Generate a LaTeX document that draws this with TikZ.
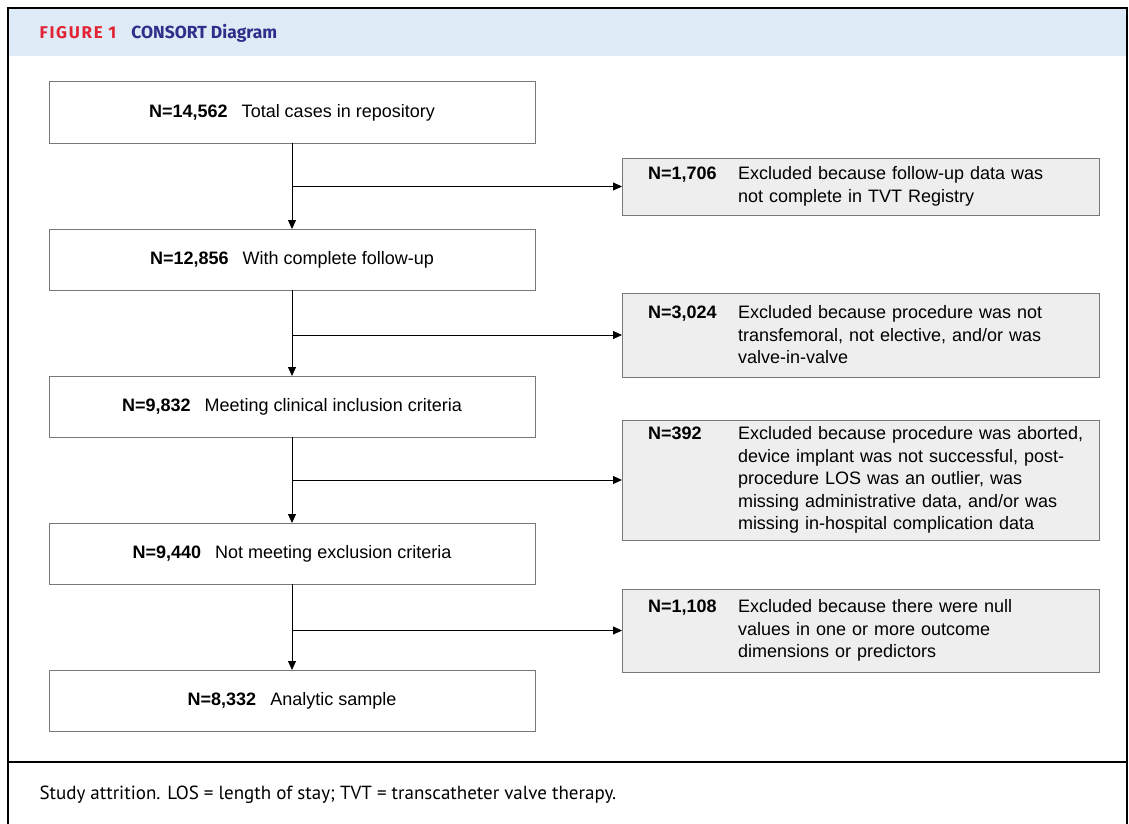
\documentclass[tikz,border=0pt]{standalone}
\usepackage{fontspec}
\setmainfont{Liberation Sans}
\newfontfamily\headfont{Fira Sans}
\newfontfamily\capfont{PT Sans}
\usetikzlibrary{positioning, arrows.meta}

\definecolor{headband}{RGB}{222,234,246}
\definecolor{figred}{RGB}{226,35,52}
\definecolor{figblue}{RGB}{44,48,138}
\definecolor{boxline}{RGB}{120,120,120}
\definecolor{exclfill}{RGB}{238,238,238}

\newcommand{\excltext}[2]{\makebox[90pt][l]{\bfseries #1}\parbox[t]{355pt}{\raggedright #2}}

\begin{document}
\begin{tikzpicture}[
    x=1pt, y=-1pt,
    stage/.style={
        rectangle,
        draw=boxline,
        line width=1pt,
        minimum width=486pt,
        minimum height=61pt,
        outer sep=0pt,
        font=\fontsize{18}{22.5}\selectfont
    },
    excl/.style={
        rectangle,
        draw=boxline,
        fill=exclfill,
        line width=1pt,
        anchor=north west,
        text width=425pt,
        inner xsep=26pt,
        outer sep=0pt,
        align=left,
        font=\fontsize{18}{22.5}\selectfont
    },
    flow/.style={
        -{Triangle[length=9pt,width=8pt]},
        line width=0.8pt
    }
]
    \useasboundingbox (0,0) rectangle (1129,824);

    % -- Frame and header --
    \fill[headband] (9,9) rectangle (1126,56);
    \draw[line width=1.5pt] (8,824) -- (8,8) -- (1127,8) -- (1127,824);
    \draw[line width=1.2pt] (8,762) -- (1127,762);
    \node[anchor=west, font=\headfont\bfseries\fontsize{17}{19}\selectfont, text=figred] (fig) at (36,33)
        {\addfontfeature{LetterSpace=10}FIGURE 1};
    \node[right=8pt of fig, font=\headfont\bfseries\fontsize{17.5}{19}\selectfont, text=figblue] (title)
        {CONSORT Diagram};

    % -- Main stages --
    \node[stage] (l1) at (292,112.5) {\textbf{N=14,562}\hspace{14pt}Total cases in repository};
    \node[stage, below=86pt of l1] (l2) {\textbf{N=12,856}\hspace{14pt}With complete follow-up};
    \node[stage, below=86pt of l2] (l3) {\textbf{N=9,832}\hspace{14pt}Meeting clinical inclusion criteria};
    \node[stage, below=86pt of l3] (l4) {\textbf{N=9,440}\hspace{14pt}Not meeting exclusion criteria};
    \node[stage, below=86pt of l4] (l5) {\textbf{N=8,332}\hspace{14pt}Analytic sample};

    % -- Exclusions --
    \node[excl, minimum height=57pt] (r1) at (622,158)
        {\excltext{N=1,706}{Excluded because follow-up data was\\not complete in TVT Registry}};
    \node[excl, minimum height=84pt] (r2) at (622,293)
        {\excltext{N=3,024}{Excluded because procedure was not\\transfemoral, not elective, and/or was\\valve-in-valve}};
    \node[excl, minimum height=120pt] (r3) at (622,420)
        {\excltext{N=392}{Excluded because procedure was aborted,\\device implant was not successful, post-\\procedure LOS was an outlier, was\\missing administrative data, and/or was\\missing in-hospital complication data}};
    \node[excl, minimum height=83pt] (r4) at (622,589)
        {\excltext{N=1,108}{Excluded because there were null\\values in one or more outcome\\dimensions or predictors}};

    % Trunk arrows
    \draw[flow] (l1.south) -- (l2.north);
    \draw[flow] (l2.south) -- (l3.north);
    \draw[flow] (l3.south) -- (l4.north);
    \draw[flow] (l4.south) -- (l5.north);

    % Branches to exclusions
    \draw[flow] (l1.south |- r1.west) -- (r1.west);
    \draw[flow] (l2.south |- r2.west) -- (r2.west);
    \draw[flow] (l3.south |- r3.west) -- (r3.west);
    \draw[flow] (l4.south |- r4.west) -- (r4.west);

    % -- Caption --
    \node[anchor=west, font=\capfont\fontsize{19}{22}\selectfont] (cap) at (36,795)
        {Study attrition. LOS = length of stay; TVT = transcatheter valve therapy.};

\end{tikzpicture}
\end{document}
